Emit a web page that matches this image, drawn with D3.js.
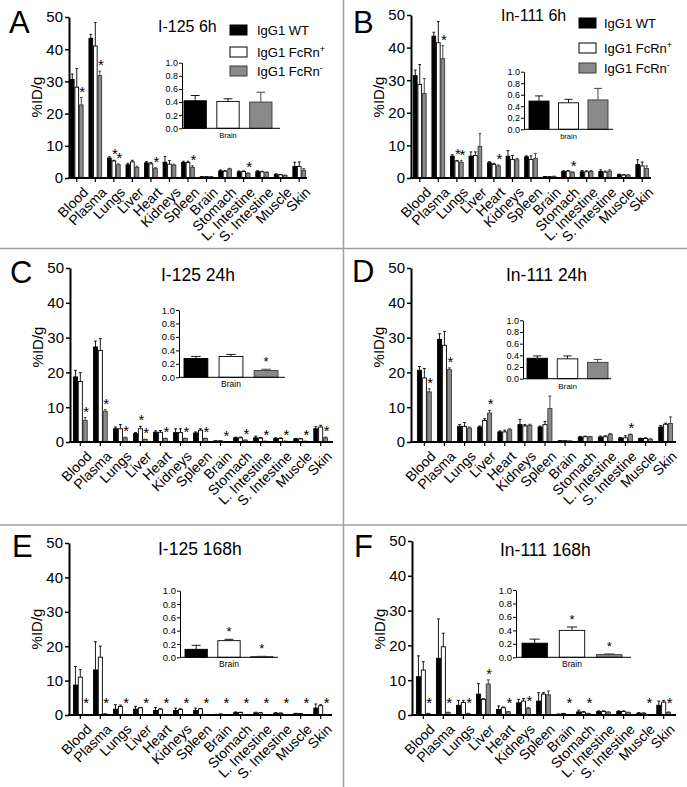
<!DOCTYPE html>
<html><head><meta charset="utf-8">
<script src="https://cdn.jsdelivr.net/npm/d3@7"></script>
<style>
body{margin:0;background:#fff}
svg{display:block}
text{font-family:"Liberation Sans",Arial,Helvetica,sans-serif;fill:#000}
</style>
</head><body><svg id="c" width="687" height="787"></svg>
<script>
// ---------------- DATA ----------------
const categories = ["Blood","Plasma","Lungs","Liver","Heart","Kidneys","Spleen","Brain","Stomach","L. Intestine","S. Intestine","Muscle","Skin"];
const seriesBase = ["IgG1 WT","IgG1 FcRn","IgG1 FcRn"];
const seriesSup = ["","+","-"];
const yTicks = [0,10,20,30,40,50];
const insetTicks = [0,0.2,0.4,0.6,0.8,1.0];

// Panel A: I-125 6h
const A_wt     = [30.6,43.4,6.2,4.1,4.7,4.9,4.8,0.4,2.2,1.9,2.0,1.1,3.6];
const A_wtErr  = [1.7,1.2,0.4,0.5,0.4,1.8,0.4,0.05,0.3,0.3,0.3,0.2,1.3];
const A_pos    = [28.2,41.0,5.3,5.0,4.4,4.3,4.8,0.4,2.1,2.0,1.9,1.0,3.6];
const A_posErr = [5.8,7.3,0.2,0.5,0.4,1.1,0.4,0.05,0.2,0.2,0.2,0.1,1.4];
const A_neg    = [22.7,31.8,4.1,3.3,2.9,4.0,3.3,0.4,2.8,1.4,1.7,0.8,2.4];
const A_negErr = [2.3,1.4,0.3,0.4,0.3,0.3,0.5,0.05,0.2,0.2,0.2,0.1,0.5];
const A_stars  = [[0,2],[1,2],[2,1],[2,2],[4,2],[6,2],[9,2]];
const A_brain = [0.42,0.41,0.40], A_brainErr = [0.08,0.04,0.15], A_brainStars = [];

// Panel B: In-111 6h
const B_wt     = [31.4,43.5,6.7,6.7,4.7,6.7,6.5,0.4,2.0,1.9,2.0,1.0,4.1];
const B_wtErr  = [1.7,1.2,0.4,1.3,0.3,1.7,0.3,0.05,0.2,0.4,0.5,0.2,1.5];
const B_pos    = [28.7,41.5,5.2,6.9,4.2,5.7,5.7,0.4,2.1,1.9,1.8,0.9,3.7];
const B_posErr = [6.1,6.5,0.2,1.1,0.3,1.2,1.1,0.05,0.2,0.3,0.3,0.1,1.2];
const B_neg    = [25.9,36.6,4.8,9.7,3.7,5.6,6.0,0.5,1.7,2.0,2.1,0.9,2.9];
const B_negErr = [4.6,4.0,0.5,3.9,0.3,0.4,1.5,0.05,0.2,0.3,0.4,0.1,0.8];
const B_stars  = [[1,2],[2,1],[2,2],[4,2],[8,2]];
const B_brain = [0.49,0.46,0.51], B_brainErr = [0.09,0.06,0.20], B_brainStars = [];

// Panel C: I-125 24h
const C_wt     = [18.7,27.3,3.8,2.4,2.8,2.7,2.6,0.3,1.2,1.2,1.0,0.9,3.8];
const C_wtErr  = [1.9,1.7,0.5,0.3,0.4,1.1,0.3,0.03,0.2,0.5,0.2,0.1,0.6];
const C_pos    = [17.4,26.3,3.8,3.8,2.8,2.7,3.4,0.3,1.2,1.1,1.0,0.9,4.3];
const C_posErr = [2.5,3.4,1.2,0.7,0.5,1.1,0.4,0.03,0.2,0.2,0.2,0.1,0.5];
const C_neg    = [6.2,8.8,1.2,0.7,1.0,1.0,1.0,0.1,0.5,0.2,0.2,0.2,1.2];
const C_negErr = [0.8,0.5,0.2,0.1,0.1,0.1,0.1,0.02,0.1,0.05,0.05,0.05,0.2];
const C_stars  = [[0,2],[1,2],[2,2],[3,1],[3,2],[4,2],[5,2],[6,2],[7,2],[8,2],[9,2],[10,2],[11,2],[12,2]];
const C_brain = [0.28,0.31,0.10], C_brainErr = [0.03,0.03,0.02], C_brainStars = [2];

// Panel D: In-111 24h
const D_wt     = [20.6,29.5,4.5,4.3,2.9,5.0,4.3,0.35,1.4,1.4,1.1,1.0,4.3];
const D_wtErr  = [1.1,1.6,0.5,0.3,0.3,1.5,0.3,0.03,0.2,0.3,0.2,0.1,0.4];
const D_pos    = [18.4,27.8,4.5,6.2,2.9,4.6,5.0,0.34,1.5,1.5,1.2,1.0,5.1];
const D_posErr = [2.7,4.0,1.1,0.5,0.5,0.4,0.9,0.03,0.2,0.3,0.6,0.2,0.3];
const D_neg    = [14.4,20.8,4.0,8.3,3.5,4.8,9.6,0.28,1.5,2.2,2.1,0.8,5.3];
const D_negErr = [0.9,0.5,0.3,0.8,0.3,0.3,3.6,0.03,0.1,0.2,0.2,0.1,1.9];
const D_stars  = [[0,2],[1,2],[3,2],[10,2]];
const D_brain = [0.35,0.34,0.28], D_brainErr = [0.04,0.05,0.05], D_brainStars = [];

// Panel E: I-125 168h
const E_wt     = [8.7,13.1,1.7,1.7,1.3,1.3,1.3,0.12,0.7,0.6,0.5,0.4,2.0];
const E_wtErr  = [5.4,8.2,1.3,0.8,0.9,0.7,0.7,0.06,0.2,0.2,0.2,0.1,1.2];
const E_pos    = [11.0,16.8,2.5,2.1,1.7,1.6,1.8,0.25,0.7,0.6,0.5,0.4,2.7];
const E_posErr = [2.2,3.2,0.4,0.1,0.1,0.2,0.1,0.02,0.1,0.1,0.1,0.05,0.3];
const E_neg    = [0.1,0.3,0.1,0.1,0.1,0.1,0.1,0.01,0.05,0.05,0.05,0.03,0.1];
const E_negErr = [0.05,0.05,0.05,0.05,0.05,0.05,0.05,0.01,0.02,0.02,0.02,0.02,0.05];
const E_stars  = [[0,2],[1,2],[2,2],[3,2],[4,2],[5,2],[6,2],[7,2],[8,2],[9,2],[10,2],[11,2],[12,2]];
const E_brain = [0.12,0.25,0.01], E_brainErr = [0.06,0.02,0.005], E_brainStars = [1,2];

// Panel F: In-111 168h
const F_wt     = [11.0,16.3,2.8,6.0,1.6,3.5,4.0,0.21,0.9,1.0,1.0,0.5,2.8];
const F_wtErr  = [6.0,11.3,1.4,3.0,1.0,1.0,2.4,0.06,0.5,0.2,0.2,0.2,1.2];
const F_pos    = [12.9,19.6,3.6,4.5,2.1,4.0,6.0,0.40,0.8,1.0,1.0,0.5,3.7];
const F_posErr = [2.4,3.9,0.6,0.2,0.2,0.7,0.4,0.05,0.2,0.2,0.2,0.1,0.5];
const F_neg    = [0.4,0.7,0.4,8.9,0.9,1.9,5.8,0.04,0.4,0.8,0.7,0.05,0.7];
const F_negErr = [0.1,0.1,0.1,1.2,0.1,0.3,1.1,0.01,0.1,0.1,0.1,0.02,0.2];
const F_stars  = [[0,2],[1,2],[2,2],[3,2],[4,2],[5,2],[7,2],[8,2],[11,2],[12,2]];
const F_brain = [0.21,0.40,0.04], F_brainErr = [0.06,0.05,0.01], F_brainStars = [1,2];

// ---------------- LAYOUT ----------------
const panels = [
  {letter:"A", title:"I-125 6h", vals:[A_wt,A_pos,A_neg], errs:[A_wtErr,A_posErr,A_negErr], stars:A_stars,
   brain:A_brain, brainErr:A_brainErr, brainStars:A_brainStars, brainLabel:"Brain",
   L:{lx:9,ly:33,tx:158,ty:32,tfs:16,ax:69,y0:178,y50:17,xEnd:307,bx0:70,bx1:306,ylc:97,starFloor:0},
   I:{ax:182,y0:128.3,y1:62.7,xEnd:280,bx0:184,bx1:272,fs:9,lfs:7.5},
   legend:{sx:230,tx:257,ys:[25,47,66]}},
  {letter:"B", title:"In-111 6h", vals:[B_wt,B_pos,B_neg], errs:[B_wtErr,B_posErr,B_negErr], stars:B_stars,
   brain:B_brain, brainErr:B_brainErr, brainStars:B_brainStars, brainLabel:"brain",
   L:{lx:353,ly:33,tx:501,ty:21,tfs:16,ax:411,y0:178,y50:15,xEnd:651,bx0:413,bx1:649,ylc:97,starFloor:0},
   I:{ax:524,y0:129.3,y1:71.7,xEnd:613,bx0:529,bx1:608,fs:9,lfs:7.5},
   legend:{sx:579,tx:604,ys:[18,43,63]}},
  {letter:"C", title:"I-125 24h", vals:[C_wt,C_pos,C_neg], errs:[C_wtErr,C_posErr,C_negErr], stars:C_stars,
   brain:C_brain, brainErr:C_brainErr, brainStars:C_brainStars, brainLabel:"Brain",
   L:{lx:10,ly:283,tx:161,ty:281,tfs:17.5,ax:70,y0:442,y50:268,xEnd:333,bx0:73,bx1:328,ylc:347,starFloor:0},
   I:{ax:179,y0:377.3,y1:310,xEnd:285,bx0:184,bx1:278,fs:9.5,lfs:8.5}},
  {letter:"D", title:"In-111 24h", vals:[D_wt,D_pos,D_neg], errs:[D_wtErr,D_posErr,D_negErr], stars:D_stars,
   brain:D_brain, brainErr:D_brainErr, brainStars:D_brainStars, brainLabel:"Brain",
   L:{lx:352,ly:282,tx:506,ty:281,tfs:17.5,ax:411,y0:442,y50:268,xEnd:676,bx0:417,bx1:673,ylc:347,starFloor:0},
   I:{ax:523,y0:378.7,y1:320.3,xEnd:611,bx0:527,bx1:608,fs:9,lfs:8}},
  {letter:"E", title:"I-125 168h", vals:[E_wt,E_pos,E_neg], errs:[E_wtErr,E_posErr,E_negErr], stars:E_stars,
   brain:E_brain, brainErr:E_brainErr, brainStars:E_brainStars, brainLabel:"Brain",
   L:{lx:12,ly:557,tx:158,ty:555,tfs:17.5,ax:69,y0:715,y50:543,xEnd:332,bx0:73,bx1:328,ylc:629,starFloor:7},
   I:{ax:180,y0:657.3,y1:590.7,xEnd:278,bx0:185,bx1:273,fs:9.5,lfs:8.5}},
  {letter:"F", title:"In-111 168h", vals:[F_wt,F_pos,F_neg], errs:[F_wtErr,F_posErr,F_negErr], stars:F_stars,
   brain:F_brain, brainErr:F_brainErr, brainStars:F_brainStars, brainLabel:"Brain",
   L:{lx:354,ly:557,tx:500,ty:556,tfs:17.5,ax:412,y0:715,y50:541,xEnd:676,bx0:416,bx1:671,ylc:629,starFloor:7},
   I:{ax:516,y0:657.3,y1:590,xEnd:631,bx0:522,bx1:622,fs:9.5,lfs:8.5}}
];

const fills = ["#000000","#ffffff","#8a8a8a"];
const strokes = ["#000000","#000000","#3a3a3a"];
const errCol = ["#000000","#000000","#333333"];

const svg = d3.select("#c");

// separators
svg.append("line").attr("x1",343.5).attr("x2",343.5).attr("y1",0).attr("y2",787).attr("stroke","#a0a0a0").attr("stroke-width",1.5);
[248.5,525].forEach(yy=>svg.append("line").attr("x1",0).attr("x2",687).attr("y1",yy).attr("y2",yy).attr("stroke","#a0a0a0").attr("stroke-width",1.5));

function drawPanel(p){
  const L = p.L;
  const g = svg.append("g");
  const y = d3.scaleLinear().domain([0,50]).range([L.y0,L.y50]);
  const x0 = d3.scaleBand().domain(categories).range([L.bx0,L.bx1]).paddingInner(0.27).paddingOuter(0);
  const x1 = d3.scaleBand().domain([0,1,2]).range([0,x0.bandwidth()]);
  const bw = x1.bandwidth();

  // bars
  for(let s=0;s<3;s++){
    categories.forEach((c,i)=>{
      const v = p.vals[s][i], e = p.errs[s][i];
      const bx = x0(c)+x1(s);
      const cx = bx+bw/2;
      g.append("line").attr("x1",cx).attr("x2",cx).attr("y1",y(v)).attr("y2",y(v+e))
        .attr("stroke",errCol[s]).attr("stroke-width",0.9);
      g.append("line").attr("x1",cx-bw*0.3).attr("x2",cx+bw*0.3).attr("y1",y(v+e)).attr("y2",y(v+e))
        .attr("stroke",errCol[s]).attr("stroke-width",0.9);
      g.append("rect").attr("x",bx+0.4).attr("y",y(v)).attr("width",bw-0.8).attr("height",Math.max(0,y(0)-y(v)))
        .attr("fill",fills[s]).attr("stroke",strokes[s]).attr("stroke-width",0.9);
    });
  }
  // stars
  p.stars.forEach(([i,s])=>{
    const c = categories[i];
    const cx = x0(c)+x1(s)+bw/2+1;
    const top = y(p.vals[s][i]+p.errs[s][i]);
    const by = L.starFloor ? Math.min(top-1, L.y0-L.starFloor) : top-1;
    g.append("text").attr("x",cx).attr("y",by).attr("text-anchor","middle").attr("font-size",15).text("*");
  });

  // y axis
  const ya = d3.axisLeft(y).tickValues(yTicks).tickSize(4).tickSizeOuter(0).tickPadding(2);
  const yg = g.append("g").attr("transform",`translate(${L.ax},0)`).call(ya);
  yg.select(".domain").attr("stroke-width",2);
  yg.selectAll(".tick line").attr("stroke-width",1.5);
  yg.selectAll(".tick text").attr("font-size",15).attr("font-family","Liberation Sans, Arial, sans-serif");
  // x axis
  g.append("line").attr("x1",L.ax-1).attr("x2",L.xEnd).attr("y1",L.y0).attr("y2",L.y0).attr("stroke","#000").attr("stroke-width",2);
  categories.forEach(c=>{
    const cx = x0(c)+x0.bandwidth()/2;
    g.append("line").attr("x1",cx).attr("x2",cx).attr("y1",L.y0).attr("y2",L.y0+4).attr("stroke","#000").attr("stroke-width",1.2);
    g.append("text").attr("transform",`translate(${cx+5},${L.y0+8}) rotate(-45)`)
      .attr("text-anchor","end").attr("dy","0.72em").attr("font-size",14).text(c);
  });
  // y label
  g.append("text").attr("transform",`translate(${L.ax-27},${L.ylc}) rotate(-90)`).attr("text-anchor","middle")
    .attr("font-size",15).text("%ID/g");
  // letter & title
  g.append("text").attr("x",L.lx).attr("y",L.ly).attr("font-size",31).text(p.letter);
  g.append("text").attr("x",L.tx).attr("y",L.ty).attr("font-size",L.tfs).text(p.title);

  // inset
  const I = p.I;
  const iy = d3.scaleLinear().domain([0,1]).range([I.y0,I.y1]);
  const ix = d3.scaleBand().domain([0,1,2]).range([I.bx0,I.bx1]).paddingInner(0.32).paddingOuter(0);
  const ibw = ix.bandwidth();
  for(let s=0;s<3;s++){
    const v = p.brain[s], e = p.brainErr[s];
    const bx = ix(s), cx = bx+ibw/2;
    g.append("line").attr("x1",cx).attr("x2",cx).attr("y1",iy(v)).attr("y2",iy(v+e)).attr("stroke",errCol[s]).attr("stroke-width",0.9);
    g.append("line").attr("x1",cx-ibw*0.2).attr("x2",cx+ibw*0.2).attr("y1",iy(v+e)).attr("y2",iy(v+e)).attr("stroke",errCol[s]).attr("stroke-width",0.9);
    g.append("rect").attr("x",bx).attr("y",iy(v)).attr("width",ibw).attr("height",Math.max(0,iy(0)-iy(v)))
      .attr("fill",fills[s]).attr("stroke",strokes[s]).attr("stroke-width",0.9);
  }
  p.brainStars.forEach(s=>{
    const cx = ix(s)+ibw/2;
    const top = iy(p.brain[s]+p.brainErr[s]);
    g.append("text").attr("x",cx).attr("y",top-3).attr("text-anchor","middle").attr("font-size",13).text("*");
  });
  const iya = d3.axisLeft(iy).tickValues(insetTicks).tickFormat(d3.format(".1f")).tickSize(3).tickSizeOuter(0).tickPadding(1);
  const iyg = g.append("g").attr("transform",`translate(${I.ax},0)`).call(iya);
  iyg.select(".domain").attr("stroke-width",1);
  iyg.selectAll(".tick text").attr("font-size",I.fs).attr("font-family","Liberation Sans, Arial, sans-serif");
  g.append("line").attr("x1",I.ax).attr("x2",I.xEnd).attr("y1",I.y0).attr("y2",I.y0).attr("stroke","#000").attr("stroke-width",1);
  g.append("text").attr("x",ix(1)+ibw/2).attr("y",I.y0+10).attr("text-anchor","middle").attr("font-size",I.lfs).text(p.brainLabel);

  // legend
  if(p.legend){
    const lg = p.legend;
    for(let s=0;s<3;s++){
      g.append("rect").attr("x",lg.sx).attr("y",lg.ys[s]).attr("width",17).attr("height",10)
        .attr("fill",fills[s]).attr("stroke",strokes[s]).attr("stroke-width",1);
      const t = g.append("text").attr("x",lg.tx).attr("y",lg.ys[s]+9.5).attr("font-size",13);
      t.append("tspan").text(seriesBase[s]);
      if(seriesSup[s]) t.append("tspan").attr("dy",-5).attr("font-size",9).text(seriesSup[s]);
    }
  }
}
panels.forEach(drawPanel);
</script></body></html>
